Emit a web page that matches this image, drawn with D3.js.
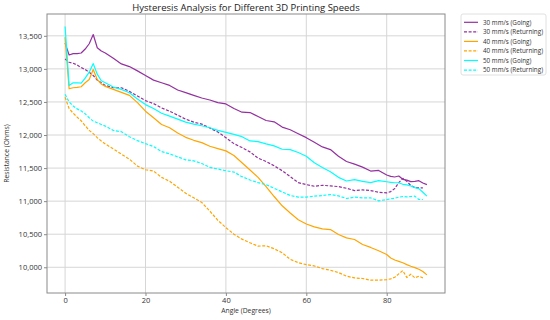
<!DOCTYPE html>
<html>
<head>
<meta charset="utf-8">
<script src="https://cdn.jsdelivr.net/npm/d3@7"></script>
<style>
  html, body { margin: 0; padding: 0; background: #fff; }
  svg { display: block; font-family: "Open Sans", "DejaVu Sans", sans-serif; }
</style>
</head>
<body>
<svg id="chart" width="550" height="320"></svg>
<script>
// ---- data ----
const angles = [0,1,2,3,4,5,6,7,8,9,10,12,14,16,18,20,22,24,26,28,30,32,34,36,38,40,42,44,46,48,50,52,54,56,58,60,62,64,66,68,70,72,74,76,78,80,81,82,83,84,85,86,87,88,89,90];

const going30 = [13390,13210,13230,13230,13240,13300,13380,13520,13320,13270,13240,13160,13075,13035,12970,12900,12830,12790,12750,12680,12640,12600,12560,12530,12490,12470,12400,12345,12340,12280,12220,12200,12120,12080,12020,11960,11890,11820,11780,11680,11600,11560,11515,11455,11465,11395,11375,11365,11380,11330,11318,11295,11300,11310,11275,11250];
const returning30 = [13150,13100,13085,13060,13020,12990,12950,12900,12830,12790,12750,12715,12715,12660,12590,12520,12475,12410,12360,12300,12240,12195,12165,12105,12045,11960,11870,11810,11745,11650,11600,11535,11460,11370,11280,11250,11225,11240,11230,11220,11195,11160,11170,11160,11135,11125,11145,11190,11280,11345,11300,11235,11205,11200,11200];
const going40 = [13480,12700,12715,12720,12730,12790,12840,12990,12840,12770,12735,12690,12645,12600,12490,12360,12260,12160,12110,12030,11965,11920,11885,11830,11795,11760,11690,11580,11470,11360,11220,11070,10930,10820,10720,10655,10610,10580,10570,10495,10445,10420,10345,10300,10250,10192,10140,10110,10090,10068,10040,10015,9995,9970,9935,9885];
const returning40 = [12570,12400,12330,12270,12215,12140,12070,12020,11960,11910,11865,11790,11710,11635,11530,11475,11455,11360,11300,11210,11120,11050,10980,10850,10710,10600,10500,10425,10370,10320,10325,10280,10220,10120,10070,10040,10020,9980,9955,9920,9865,9840,9830,9805,9805,9813,9825,9850,9900,9950,9845,9895,9840,9865,9840];
const going50 = [13640,12750,12790,12790,12785,12860,12950,13080,12920,12820,12790,12725,12690,12640,12545,12460,12400,12330,12285,12240,12195,12165,12140,12110,12070,12040,12010,11975,11910,11900,11865,11835,11785,11780,11735,11680,11580,11510,11445,11360,11305,11325,11300,11280,11310,11293,11285,11278,11278,11255,11245,11230,11205,11190,11135,11076];
const returning50 = [12615,12500,12440,12395,12365,12320,12260,12210,12185,12160,12135,12070,12050,11975,11915,11870,11825,11750,11715,11670,11625,11610,11570,11510,11485,11460,11440,11370,11320,11280,11250,11195,11140,11085,11060,11060,11075,11085,11100,11080,11040,11060,11050,11050,11005,11025,11035,11045,11060,11070,11065,11070,11075,11025,11025];

const seriesNames = ["30 mm/s (Going)","30 mm/s (Returning)","40 mm/s (Going)","40 mm/s (Returning)","50 mm/s (Going)","50 mm/s (Returning)"];
const seriesValues = [going30, returning30, going40, returning40, going50, returning50];
const xTicks = [0,20,40,60,80];
const yTicks = [10000,10500,11000,11500,12000,12500,13000,13500];

const title = "Hysteresis Analysis for Different 3D Printing Speeds";
const xLabel = "Angle (Degrees)";
const yLabel = "Resistance (Ohms)";

// ---- styles ----
const colors = ["#93319f","#93319f","#ffa500","#ffa500","#00ffff","#00ffff"];
const dashed = [false,true,false,true,false,true];

// ---- layout ----
const svg = d3.select("#chart");
const L = 47, R = 445, T = 14, B = 293;

const x = d3.scaleLinear().domain([-4.5, 94.5]).range([L, R]);
const y = d3.scaleLinear().domain([9611, 13830]).range([B, T]);

// grid
const g = svg.append("g");
g.selectAll(".gx").data(xTicks).join("line")
  .attr("x1", d => x(d)).attr("x2", d => x(d))
  .attr("y1", T).attr("y2", B)
  .attr("stroke", "#d6d6d6").attr("stroke-width", 1);
g.selectAll(".gy").data(yTicks).join("line")
  .attr("x1", L).attr("x2", R)
  .attr("y1", d => y(d)).attr("y2", d => y(d))
  .attr("stroke", "#d6d6d6").attr("stroke-width", 1);

// lines
const line = d3.line().x((d, i) => x(angles[i])).y(d => y(d));
seriesValues.forEach((vals, k) => {
  svg.append("path")
    .datum(vals)
    .attr("fill", "none")
    .attr("stroke", colors[k])
    .attr("stroke-width", 1.2)
    .attr("stroke-linejoin", "round")
    .attr("stroke-dasharray", dashed[k] ? "3,1.6" : null)
    .attr("d", line);
});

// frame
svg.append("rect")
  .attr("x", L).attr("y", T).attr("width", R - L).attr("height", B - T)
  .attr("fill", "none").attr("stroke", "#8a8a8a").attr("stroke-width", 1);

// axes
const xAxis = d3.axisBottom(x).tickValues(xTicks).tickSize(3).tickPadding(2).tickFormat(d3.format("d"));
const yAxis = d3.axisLeft(y).tickValues(yTicks).tickSize(3).tickPadding(2).tickFormat(d3.format(","));
const gx = svg.append("g").attr("transform", `translate(0,${B})`).call(xAxis);
const gy = svg.append("g").attr("transform", `translate(${L},0)`).call(yAxis);
[gx, gy].forEach(a => {
  a.select(".domain").remove();
  a.selectAll(".tick line").attr("stroke", "#8a8a8a");
  a.selectAll(".tick text").attr("fill", "#333").style("font-size", "7.5px")
    .style("font-family", "'Open Sans', sans-serif");
});

// title & labels
svg.append("text").attr("x", (L + R) / 2).attr("y", 11)
  .attr("text-anchor", "middle").attr("fill", "#222")
  .style("font-size", "9.5px").text(title);
svg.append("text").attr("x", (L + R) / 2).attr("y", 313)
  .attr("text-anchor", "middle").attr("fill", "#333")
  .style("font-size", "6.8px").text(xLabel);
svg.append("text").attr("transform", `translate(9,${(T + B) / 2}) rotate(-90)`)
  .attr("text-anchor", "middle").attr("fill", "#333")
  .style("font-size", "6.8px").text(yLabel);

// legend
const lg = svg.append("g");
lg.append("rect").attr("x", 461).attr("y", 14).attr("width", 85).attr("height", 61)
  .attr("rx", 2).attr("fill", "#fff").attr("stroke", "#d8d8d8").attr("stroke-width", 0.8);
seriesNames.forEach((name, k) => {
  const yy = 22.3 + k * 9.55;
  lg.append("line").attr("x1", 464).attr("x2", 478).attr("y1", yy).attr("y2", yy)
    .attr("stroke", colors[k]).attr("stroke-width", 1.2)
    .attr("stroke-dasharray", dashed[k] ? "3,1.6" : null);
  lg.append("text").attr("x", 483).attr("y", yy + 2.2).attr("fill", "#333")
    .style("font-size", "6.3px").text(name);
});
</script>
</body>
</html>
